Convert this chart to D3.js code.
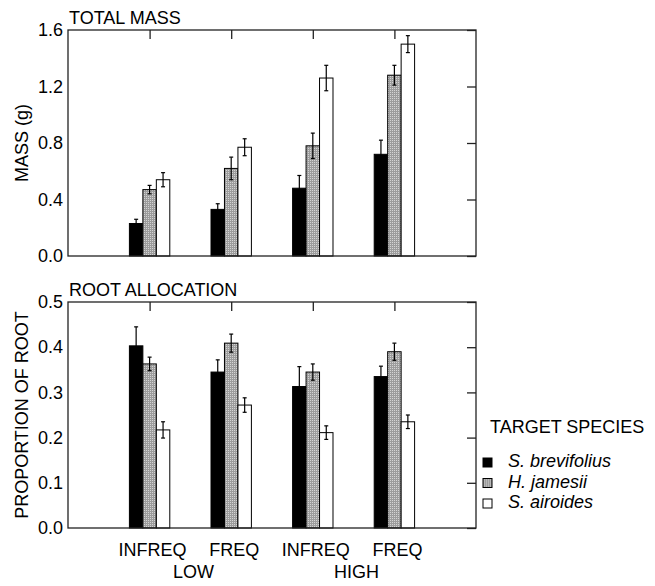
<!DOCTYPE html>
<html>
<head>
<meta charset="utf-8">
<script src="https://cdn.jsdelivr.net/npm/d3@7"></script>
<style>
  body { margin: 0; background: #fff; }
  text { font-family: "Liberation Sans", Arial, sans-serif; fill: #000; }
</style>
</head>
<body>
<div id="chart"></div>
<script>

var treatments = ["LOW INFREQ", "LOW FREQ", "HIGH INFREQ", "HIGH FREQ"];
var freqLabels = ["INFREQ", "FREQ", "INFREQ", "FREQ"];
var levelLabels = ["LOW", "HIGH"];
var species = ["S. brevifolius", "H. jamesii", "S. airoides"];

// total mass (g), mean and error per species
var massBrevifolius = [0.23, 0.33, 0.48, 0.72];
var massBrevifoliusErr = [0.03, 0.04, 0.09, 0.10];
var massJamesii = [0.47, 0.62, 0.78, 1.28];
var massJamesiiErr = [0.03, 0.08, 0.09, 0.07];
var massAiroides = [0.54, 0.77, 1.26, 1.50];
var massAiroidesErr = [0.05, 0.06, 0.09, 0.06];

// proportion of root
var rootBrevifolius = [0.403, 0.345, 0.313, 0.335];
var rootBrevifoliusErr = [0.042, 0.027, 0.044, 0.023];
var rootJamesii = [0.363, 0.409, 0.345, 0.390];
var rootJamesiiErr = [0.015, 0.020, 0.018, 0.019];
var rootAiroides = [0.217, 0.272, 0.211, 0.235];
var rootAiroidesErr = [0.018, 0.016, 0.015, 0.015];

var massTicks = [0, 0.4, 0.8, 1.2, 1.6];
var rootTicks = [0, 0.1, 0.2, 0.3, 0.4, 0.5];

const width = 655;
const height = 586;
const left = 68, right = 476;

const svg = d3.select("#chart")
    .append("svg")
    .attr("width", width)
    .attr("height", height);

var defs = svg.append("defs");
var pat = defs.append("pattern")
    .attr("id", "grey")
    .attr("patternUnits", "userSpaceOnUse")
    .attr("width", 2)
    .attr("height", 2);
pat.append("rect").attr("width", 2).attr("height", 2).attr("fill", "#9c9c9c");
pat.append("rect").attr("width", 1).attr("height", 1).attr("fill", "#d4d4d4");

var fills = ["#000", "url(#grey)", "#fff"];

var x = d3.scalePoint()
    .domain(treatments)
    .range([left, right])
    .padding(1);

var barW = x.step() * 0.165;

var drawPanel = function(top, bottom, domain, ticks, title, ylabel, means, errs) {

  var y = d3.scaleLinear().domain(domain).range([bottom, top]);
  var g = svg.append("g");

  var rows = [];
  means.forEach(function(m, s) {
    m.forEach(function(v, i) {
      rows.push({ t: treatments[i], s: s, v: v, e: errs[s][i] });
    });
  });

  g.selectAll("rect.bar")
      .data(rows)
      .enter()
      .append("rect")
      .attr("class", "bar")
      .attr("x", function(d){ return x(d.t) + (d.s - 1.5) * barW; })
      .attr("y", function(d){ return y(d.v); })
      .attr("width", barW)
      .attr("height", function(d){ return y(0) - y(d.v); })
      .attr("fill", function(d){ return fills[d.s]; })
      .attr("stroke", "#000")
      .attr("stroke-width", 1);

  var eb = g.selectAll("g.err")
      .data(rows)
      .enter()
      .append("g")
      .attr("class", "err")
      .attr("stroke", "#000")
      .attr("stroke-width", 1.2);
  eb.append("line")
      .attr("x1", function(d){ return x(d.t) + (d.s - 1) * barW; })
      .attr("x2", function(d){ return x(d.t) + (d.s - 1) * barW; })
      .attr("y1", function(d){ return y(d.v - d.e); })
      .attr("y2", function(d){ return y(d.v + d.e); });
  eb.append("line")
      .attr("x1", function(d){ return x(d.t) + (d.s - 1) * barW - 2; })
      .attr("x2", function(d){ return x(d.t) + (d.s - 1) * barW + 2; })
      .attr("y1", function(d){ return y(d.v + d.e); })
      .attr("y2", function(d){ return y(d.v + d.e); });
  eb.append("line")
      .attr("x1", function(d){ return x(d.t) + (d.s - 1) * barW - 2; })
      .attr("x2", function(d){ return x(d.t) + (d.s - 1) * barW + 2; })
      .attr("y1", function(d){ return y(d.v - d.e); })
      .attr("y2", function(d){ return y(d.v - d.e); });

  // left axis labels only
  var yAxis = g.append("g")
      .attr("transform", "translate(" + left + ",0)")
      .call(d3.axisLeft(y).tickValues(ticks).tickFormat(d3.format(".1f")).tickSize(0).tickPadding(5));
  yAxis.select(".domain").remove();
  yAxis.selectAll("text").style("font-size", "18px").style("font-family", "Liberation Sans, Arial, sans-serif");

  // right inward ticks
  var rAxis = g.append("g")
      .attr("transform", "translate(" + right + ",0)")
      .call(d3.axisRight(y).tickValues(ticks).tickFormat("").tickSize(-9));
  rAxis.select(".domain").remove();
  rAxis.selectAll("line").attr("stroke", "#222").attr("stroke-width", 1.3);

  // top inward ticks
  var tAxis = g.append("g")
      .attr("transform", "translate(0," + top + ")")
      .call(d3.axisTop(x).tickFormat("").tickSize(-9));
  tAxis.select(".domain").remove();
  tAxis.selectAll("line").attr("stroke", "#222").attr("stroke-width", 1.3);

  g.append("rect")
      .attr("x", left)
      .attr("y", top)
      .attr("width", right - left)
      .attr("height", bottom - top)
      .attr("fill", "none")
      .attr("stroke", "#222")
      .attr("stroke-width", 1.3);

  g.append("text")
      .attr("x", left + 1)
      .attr("y", top - 6)
      .style("font-size", "18px")
      .text(title);

  g.append("text")
      .attr("transform", "translate(28," + ((top + bottom) / 2) + ") rotate(-90)")
      .attr("text-anchor", "middle")
      .style("font-size", "18px")
      .text(ylabel);

  return y;
};

drawPanel(30, 256, [0, 1.6], massTicks, "TOTAL MASS", "MASS (g)",
  [massBrevifolius, massJamesii, massAiroides],
  [massBrevifoliusErr, massJamesiiErr, massAiroidesErr]);

drawPanel(302, 528, [0, 0.5], rootTicks, "ROOT ALLOCATION", "PROPORTION OF ROOT",
  [rootBrevifolius, rootJamesii, rootAiroides],
  [rootBrevifoliusErr, rootJamesiiErr, rootAiroidesErr]);

// x labels
svg.selectAll("text.freq")
    .data(treatments)
    .enter()
    .append("text")
    .attr("class", "freq")
    .attr("x", function(d){ return x(d) + 3; })
    .attr("y", 556)
    .attr("text-anchor", "middle")
    .style("font-size", "18px")
    .text(function(d, i){ return freqLabels[i]; });

svg.selectAll("text.level")
    .data(levelLabels)
    .enter()
    .append("text")
    .attr("class", "level")
    .attr("x", function(d, i){ return (x(treatments[i * 2]) + x(treatments[i * 2 + 1])) / 2 + 3; })
    .attr("y", 578)
    .attr("text-anchor", "middle")
    .style("font-size", "18px")
    .text(function(d){ return d; });

// legend
var legend = svg.append("g").attr("transform", "translate(490,433)");
legend.append("text")
    .style("font-size", "18px")
    .text("TARGET SPECIES");
var items = legend.selectAll("g.item")
    .data(species)
    .enter()
    .append("g")
    .attr("class", "item")
    .attr("transform", function(d, i){ return "translate(0," + (34 + i * 20.5) + ")"; });
items.append("rect")
    .attr("x", -7)
    .attr("y", -9)
    .attr("width", 9)
    .attr("height", 9)
    .attr("fill", function(d, i){ return fills[i]; })
    .attr("stroke", "#000")
    .attr("stroke-width", 1);
items.append("text")
    .attr("x", 18)
    .style("font-size", "18px")
    .style("font-style", "italic")
    .text(function(d){ return d; });

</script>
</body>
</html>
